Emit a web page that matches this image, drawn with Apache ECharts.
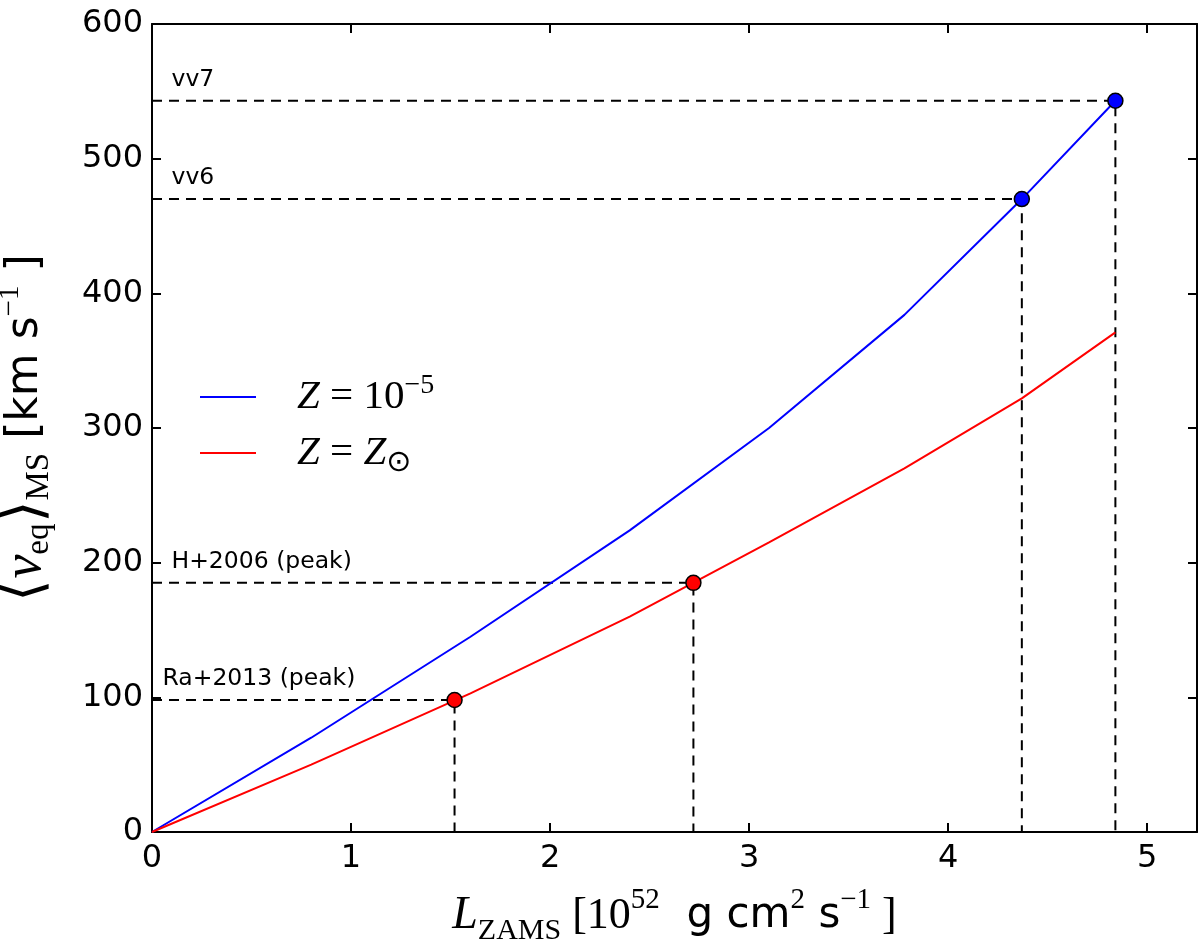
<!DOCTYPE html>
<html>
<head>
<meta charset="utf-8">
<script src="https://cdn.jsdelivr.net/npm/echarts@6/dist/echarts.min.js"></script>
<style>
html, body { margin: 0; padding: 0; background: #fff; }
#chart { width: 1200px; height: 945px; }
</style>
</head>
<body>
<div id="chart"></div>
<script>
// L_ZAMS [10^52 g cm^2 s^-1] vs <v_eq>_MS [km/s]
var lowZL = [0, 0.8, 1.6, 2.4, 3.1, 3.78, 4.37, 4.84]
var lowZV = [0, 70, 145, 224, 300, 384, 470, 543]
var solarZL = [0, 0.8, 1.6, 2.4, 3.1, 3.78, 4.37, 4.84]
var solarZV = [0, 50, 103, 160, 215, 270, 322, 371]

// reference points (dashed guides)
var refNames = ['vv7', 'vv6', 'H+2006 (peak)', 'Ra+2013 (peak)']
var refL = [4.84, 4.37, 2.72, 1.52]
var refV = [543, 470, 185, 98]
var refColor = ['#0000ff', '#0000ff', '#ff0000', '#ff0000']

var xTicks = [0, 1, 2, 3, 4, 5]
var yTicks = [0, 100, 200, 300, 400, 500, 600]

var chart = echarts.init(document.getElementById('chart'))

function zip (a, b) {
  return a.map(function (v, i) { return [v, b[i]] })
}

// font names must be quoted, otherwise rich text gets measured wrong
var serif = '"Liberation Serif", serif'
var sans = '"DejaVu Sans", sans-serif'

var series = [
  {
    name: 'lowZ',
    type: 'line',
    data: zip(lowZL, lowZV),
    showSymbol: false,
    symbol: 'none',
    color: '#0000ff',
    lineStyle: { color: '#0000ff', width: 2 },
    z: 3
  },
  {
    name: 'solarZ',
    type: 'line',
    data: zip(solarZL, solarZV),
    showSymbol: false,
    symbol: 'none',
    color: '#ff0000',
    lineStyle: { color: '#ff0000', width: 2 },
    z: 3
  }
]

// dashed guides: from y axis to the point, then down to x axis
refNames.forEach(function (n, i) {
  series.push({
    type: 'line',
    data: [[0, refV[i]], [refL[i], refV[i]], [refL[i], 0]],
    symbol: 'none',
    silent: true,
    lineStyle: { color: '#000', width: 2, type: [10, 7] },
    z: 2
  })
})

// markers
series.push({
  type: 'scatter',
  data: refL.map(function (l, i) {
    return { value: [l, refV[i]], itemStyle: { color: refColor[i] } }
  }),
  symbolSize: 15,
  itemStyle: { borderColor: '#000', borderWidth: 1.5, opacity: 1 },
  silent: true,
  z: 5
})

// text labels above the dashed guides
series.push({
  type: 'scatter',
  data: refNames.map(function (n, i) {
    return {
      value: [0, refV[i]],
      label: { offset: [i === 3 ? 10 : 19, -21] }
    }
  }),
  symbolSize: 1,
  itemStyle: { color: 'transparent' },
  silent: true,
  label: {
    show: true,
    position: 'right',
    distance: 0,
    align: 'left',
    formatter: function (p) { return refNames[p.dataIndex] },
    fontFamily: sans,
    fontSize: 23.5,
    color: '#000',
    opacity: 1
  },
  z: 4
})

var tickStyle = { show: true, inside: true, length: 9, lineStyle: { color: '#000', width: 2 } }
var lineStyleAxis = { show: true, onZero: false, lineStyle: { color: '#000', width: 2 } }

chart.setOption({
  animation: false,
  backgroundColor: '#fff',
  grid: {
    left: 152,
    right: 3,
    top: 24,
    bottom: 113,
    containLabel: false,
    outerBoundsMode: 'none'
  },
  legend: {
    data: ['lowZ', 'solarZ'],
    orient: 'vertical',
    left: 195,
    top: 367,
    itemWidth: 56,
    itemHeight: 2,
    itemGap: 15,
    icon: 'rect',
    formatter: function (name) {
      return name === 'lowZ'
        ? '{it|Z}{rm| = 10}{sup|−5}'
        : '{it|Z}{rm| = }{it|Z}{sub|⊙}'
    },
    textStyle: {
      padding: [0, 0, 0, 36],
      rich: {
        it: { fontFamily: serif, fontStyle: 'italic', fontSize: 41, lineHeight: 50, color: '#000' },
        rm: { fontFamily: serif, fontSize: 41, lineHeight: 50, color: '#000' },
        sup: { fontFamily: serif, fontSize: 28, lineHeight: 26, verticalAlign: 'top', color: '#000' },
        sub: { fontFamily: sans, fontSize: 30, lineHeight: 20, verticalAlign: 'bottom', color: '#000' }
      }
    }
  },
  xAxis: [
    {
      type: 'value',
      min: 0,
      max: 5.25,
      interval: 1,
      axisLine: lineStyleAxis,
      axisTick: tickStyle,
      splitLine: { show: false },
      axisLabel: {
        margin: 11,
        fontFamily: sans,
        fontSize: 32,
        color: '#000',
        formatter: function (v) { return xTicks.indexOf(v) >= 0 ? String(v) : '' }
      },
      name: '{it|L}{sub|ZAMS}{rm| [10}{sup|52}{sf|  g cm}{sup|2}{sf| s}{sup|−1}{rm| ]}',
      nameLocation: 'middle',
      nameGap: 54,
      nameTextStyle: {
        rich: {
          it: { fontFamily: serif, fontStyle: 'italic', fontSize: 46, lineHeight: 60, color: '#000' },
          rm: { fontFamily: serif, fontSize: 44, lineHeight: 60, color: '#000' },
          sf: { fontFamily: sans, fontSize: 42, lineHeight: 60, color: '#000' },
          sub: { fontFamily: serif, fontSize: 30, lineHeight: 30, verticalAlign: 'bottom', color: '#000' },
          sup: { fontFamily: serif, fontSize: 29, lineHeight: 28, verticalAlign: 'top', color: '#000' }
        }
      }
    },
    {
      type: 'value',
      position: 'top',
      min: 0,
      max: 5.25,
      interval: 1,
      axisLine: lineStyleAxis,
      axisTick: tickStyle,
      axisLabel: { show: false },
      splitLine: { show: false }
    }
  ],
  yAxis: [
    {
      type: 'value',
      min: 0,
      max: 600,
      interval: 100,
      axisLine: lineStyleAxis,
      axisTick: tickStyle,
      splitLine: { show: false },
      axisLabel: {
        margin: 9,
        fontFamily: sans,
        fontSize: 32,
        color: '#000',
        formatter: function (v) { return yTicks.indexOf(v) >= 0 ? String(v) : '' }
      },
      name: '{rm|⟨}{it|v}{sub|eq}{rm|⟩}{sub|MS}{sf| [km s}{sup|−1}{sf| ]}',
      nameLocation: 'middle',
      nameRotate: 90,
      nameGap: 96,
      nameTextStyle: {
        rich: {
          it: { fontFamily: serif, fontStyle: 'italic', fontSize: 54, lineHeight: 60, color: '#000' },
          rm: { fontFamily: serif, fontSize: 58, lineHeight: 60, color: '#000' },
          sf: { fontFamily: sans, fontSize: 44, lineHeight: 60, color: '#000' },
          sub: { fontFamily: serif, fontSize: 33, lineHeight: 30, verticalAlign: 'bottom', color: '#000' },
          sup: { fontFamily: serif, fontSize: 29, lineHeight: 28, verticalAlign: 'top', color: '#000' }
        }
      }
    },
    {
      type: 'value',
      position: 'right',
      min: 0,
      max: 600,
      interval: 100,
      axisLine: lineStyleAxis,
      axisTick: tickStyle,
      axisLabel: { show: false },
      splitLine: { show: false }
    }
  ],
  series: series
})

window.addEventListener('resize', function () {
  chart.resize()
})
</script>
</body>
</html>
